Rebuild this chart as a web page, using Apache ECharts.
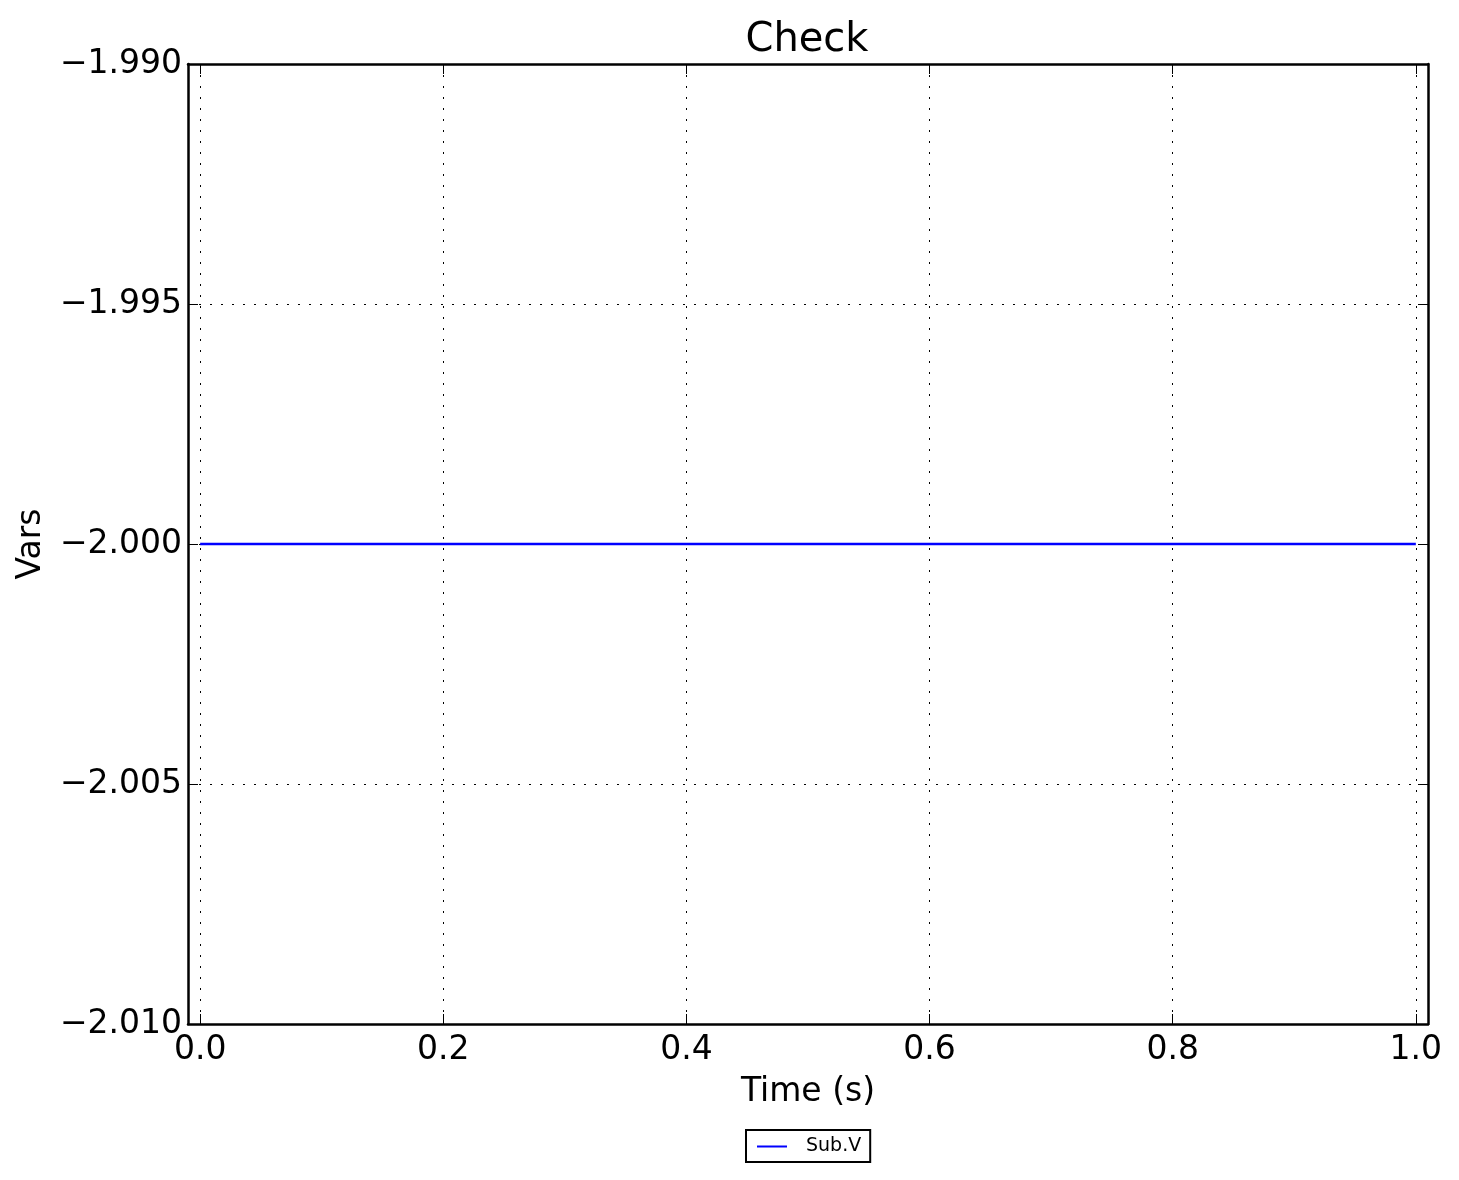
<!DOCTYPE html>
<html>
<head>
<meta charset="utf-8">
<script src="https://cdn.jsdelivr.net/npm/echarts@6/dist/echarts.min.js"></script>
<style>html,body{margin:0;padding:0;background:#fff}#c{width:1459px;height:1180px}</style>
</head>
<body>
<div id="c"></div>
<script>
var titleText = 'Check';
var xName = 'Time (s)';
var yName = 'Vars';
var seriesName = 'Sub.V';
var timeValues = [0.0, 1.0];
var subV = [-2.0, -2.0];
var xTicks = [0.0, 0.2, 0.4, 0.6, 0.8, 1.0];
var yTicks = [-2.010, -2.005, -2.000, -1.995, -1.990];
var xRange = [-0.01, 1.01];
var yRange = [-2.010, -1.990];

var FONT = 'DejaVu Sans';
function fmtX(v){ return v.toFixed(1).replace('-', '\u2212'); }
function fmtY(v){ return v.toFixed(3).replace('-', '\u2212'); }

var frameLine = {show: true, onZero: false, lineStyle: {color: '#000', width: 2.5}};
var tick = {show: true, inside: true, length: 10, lineStyle: {color: '#000', width: 1}};
var grid = {show: true, lineStyle: {color: '#000', width: 1, type: [2, 9]}};

var chart = echarts.init(document.getElementById('c'), null, {renderer: 'canvas'});
chart.setOption({
  animation: false,
  backgroundColor: '#fff',
  title: {text: titleText, left: 802, textAlign: 'center', top: 16,
    textStyle: {fontFamily: FONT, fontSize: 40, fontWeight: 'normal', color: '#000'}},
  grid: {left: 188, right: 31, top: 64, bottom: 156, containLabel: false},
  legend: {
    data: [seriesName], left: 746, top: 1130, orient: 'horizontal',
    borderColor: '#000', borderWidth: 2, borderRadius: 0, padding: [7, 9, 6, 11],
    itemWidth: 30, itemHeight: 2, itemGap: 10,
    icon: 'rect',
    textStyle: {fontFamily: FONT, fontSize: 19, color: '#000', padding: [0, 0, 0, 14]}
  },
  xAxis: [{
    type: 'value', min: xRange[0], max: xRange[1], position: 'bottom',
    name: xName, nameLocation: 'middle', nameGap: 52,
    nameTextStyle: {fontFamily: FONT, fontSize: 33, color: '#000'},
    axisLine: frameLine,
    axisTick: Object.assign({customValues: xTicks}, tick),
    axisLabel: {customValues: xTicks, formatter: fmtX, margin: 10, fontFamily: FONT, fontSize: 33, color: '#000'},
    splitLine: grid
  }, {
    type: 'value', min: xRange[0], max: xRange[1], position: 'top',
    axisLine: frameLine,
    axisTick: Object.assign({customValues: xTicks}, tick),
    axisLabel: {show: false}, splitLine: {show: false}
  }],
  yAxis: [{
    type: 'value', min: yRange[0], max: yRange[1], position: 'left',
    name: yName, nameLocation: 'middle', nameGap: 140, nameRotate: 90,
    nameTextStyle: {fontFamily: FONT, fontSize: 33, color: '#000'},
    axisLine: frameLine,
    axisTick: Object.assign({customValues: yTicks}, tick),
    axisLabel: {customValues: yTicks, formatter: fmtY, margin: 6, fontFamily: FONT, fontSize: 33, color: '#000'},
    splitLine: grid
  }, {
    type: 'value', min: yRange[0], max: yRange[1], position: 'right',
    axisLine: frameLine,
    axisTick: Object.assign({customValues: yTicks}, tick),
    axisLabel: {show: false}, splitLine: {show: false}
  }],
  series: [{
    name: seriesName, type: 'line', showSymbol: false, symbol: 'none',
    data: timeValues.map(function(t, i){ return [t, subV[i]]; }),
    lineStyle: {color: '#0000ff', width: 2.5}, itemStyle: {color: '#0000ff'}
  }]
});
</script>
</body>
</html>
